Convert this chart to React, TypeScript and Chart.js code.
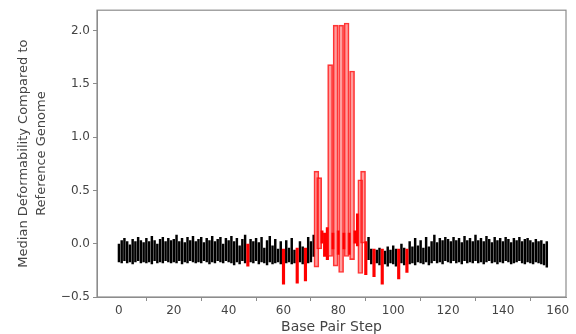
import React, { useEffect, useRef } from 'react';
import { Chart, registerables } from 'chart.js';

Chart.register(...registerables);

const xTickValues = [0, 20, 40, 60, 80, 100, 120, 140, 160];
const yTickValues = [-0.5, 0, 0.5, 1.0, 1.5, 2.0];

// lower end of each floating bar, base pair step 0..156
const lowValues = [
  -0.17, -0.18, -0.16, -0.18, -0.17, -0.19, -0.17, -0.16, -0.18, -0.17,
  -0.18, -0.17, -0.19, -0.16, -0.18, -0.17, -0.18, -0.16, -0.17, -0.18,
  -0.17, -0.18, -0.16, -0.19, -0.17, -0.18, -0.16, -0.17, -0.18, -0.17,
  -0.18, -0.16, -0.17, -0.19, -0.17, -0.18, -0.16, -0.17, -0.18, -0.16,
  -0.17, -0.18, -0.2, -0.17, -0.19, -0.16, -0.18, -0.21, -0.17, -0.18,
  -0.16, -0.19, -0.17, -0.18, -0.2, -0.17, -0.19, -0.18, -0.17, -0.19,
  -0.38, -0.18, -0.17, -0.19, -0.18, -0.37, -0.17, -0.19, -0.35, -0.18,
  -0.17, -0.12, -0.22, -0.05, 0.0, -0.12, -0.15, -0.12, -0.05, -0.21,
  -0.1, -0.27, -0.05, -0.12, -0.1, -0.15, 0.0, -0.02, -0.28, 0.0,
  -0.29, -0.15, -0.19, -0.31, -0.18, -0.2, -0.38, -0.19, -0.21, -0.18,
  -0.19, -0.21, -0.33, -0.18, -0.2, -0.27, -0.19, -0.18, -0.2, -0.17,
  -0.18, -0.19, -0.17, -0.2, -0.18, -0.16, -0.18, -0.17, -0.19, -0.16,
  -0.17, -0.18, -0.16, -0.18, -0.17, -0.19, -0.16, -0.18, -0.17, -0.18,
  -0.16, -0.18, -0.17, -0.19, -0.17, -0.16, -0.18, -0.17, -0.19, -0.17,
  -0.18, -0.16, -0.17, -0.19, -0.18, -0.17, -0.16, -0.18, -0.19, -0.17,
  -0.18, -0.19, -0.17, -0.18, -0.19, -0.2, -0.22,
];

// upper end of each floating bar, base pair step 0..156
const highValues = [
  0.0, 0.03, 0.05, 0.02, -0.01, 0.04, 0.02, 0.06, 0.03, 0.01,
  0.05, 0.02, 0.07, 0.03, 0.0, 0.04, 0.06, 0.02, 0.05, 0.03,
  0.04, 0.08, 0.02, 0.05, 0.01, 0.06, 0.03, 0.07, 0.02, 0.04,
  0.06, 0.01, 0.05, 0.03, 0.07, 0.02, 0.04, 0.06, 0.0, 0.05,
  0.03, 0.07, 0.02, 0.05, -0.02, 0.04, 0.08, 0.0, 0.04, 0.02,
  0.05, 0.01, 0.06, -0.04, 0.03, 0.07, -0.02, 0.04, -0.05, 0.02,
  -0.05, 0.03, -0.04, 0.05, -0.06, -0.04, 0.02, -0.03, -0.04, 0.06,
  0.02, 0.08, 0.68, 0.62, 0.12, 0.1, 0.15, 1.68, 0.1, 2.05,
  0.12, 2.05, 0.1, 2.07, 0.1, 1.62, 0.12, 0.28, 0.6, 0.68,
  0.02, 0.06, -0.05, -0.05, -0.06, -0.04, -0.05, -0.07, -0.03, -0.06,
  -0.02, -0.05, -0.05, 0.0, -0.04, -0.05, 0.02, -0.03, 0.05, -0.02,
  0.03, -0.04, 0.06, -0.03, 0.02, 0.08, 0.01, 0.05, 0.03, 0.06,
  0.04, 0.02, 0.06, 0.03, 0.05, 0.01, 0.07, 0.03, 0.05, 0.02,
  0.08, 0.03, 0.05, 0.02, 0.07, 0.04, 0.01, 0.06, 0.03, 0.05,
  0.02, 0.06, 0.04, 0.01, 0.05, 0.03, 0.06, 0.02, 0.04, 0.05,
  0.03, 0.01, 0.04, 0.02, 0.03, 0.0, 0.02,
];

// steps drawn in red (significant differences)
const redSteps = [
  47, 60, 65, 68, 72, 73, 74, 75, 76, 77, 78, 79, 80, 81, 82, 83, 84, 85,
  86, 87, 88, 89, 90, 93, 96, 102, 105,
];
// red steps drawn as wide tall bars
const tallSteps = [72, 73, 77, 79, 81, 83, 85, 88, 89];

const framePlugin = {
  id: 'frame',
  afterDatasetsDraw(chart: any) {
    const { ctx, chartArea } = chart;
    ctx.save();
    ctx.strokeStyle = '#8c8c8c';
    ctx.lineWidth = 1.2;
    ctx.strokeRect(chartArea.left, chartArea.top, chartArea.right - chartArea.left, chartArea.bottom - chartArea.top);
    ctx.restore();
  },
};

export default function App() {
  const canvasRef = useRef<HTMLCanvasElement | null>(null);

  useEffect(() => {
    document.body.style.margin = '0';
    const canvas = canvasRef.current;
    if (!canvas) return;

    const tallPts: any[] = [];
    const redPts: any[] = [];
    const blackPts: any[] = [];
    lowValues.forEach((lo, i) => {
      const pt = { x: i, y: [lo, highValues[i]] };
      if (tallSteps.includes(i)) tallPts.push(pt);
      else if (redSteps.includes(i)) redPts.push(pt);
      else blackPts.push(pt);
    });

    const chart = new Chart(canvas, {
      type: 'bar',
      data: {
        datasets: [
          {
            data: tallPts,
            backgroundColor: 'rgba(255,60,60,0.5)',
            borderColor: 'rgba(255,0,0,0.8)',
            borderWidth: 1,
            borderSkipped: false,
            barThickness: 5,
            grouped: false,
          } as any,
          {
            data: redPts,
            backgroundColor: '#ff0000',
            borderWidth: 0,
            barThickness: 2.5,
            grouped: false,
          } as any,
          {
            data: blackPts,
            backgroundColor: '#000000',
            borderWidth: 0,
            barThickness: 1.8,
            grouped: false,
          } as any,
        ],
      },
      options: {
        responsive: false,
        animation: false,
        layout: { padding: { top: 7, right: 10, left: 0, bottom: 0 } },
        plugins: {
          legend: { display: false },
          tooltip: { enabled: false },
        },
        scales: {
          x: {
            type: 'linear',
            min: -8,
            max: 163,
            offset: false,
            grid: { display: true, drawOnChartArea: false, drawTicks: true, tickLength: 4, color: '#8c8c8c' },
            border: { display: true, color: '#8c8c8c' },
            ticks: {
              autoSkip: false,
              maxRotation: 0,
              padding: 3,
              color: '#444',
              font: { family: 'DejaVu Sans', size: 12 },
              callback: (v: any) => String(v),
            },
            afterBuildTicks: (s: any) => {
              s.ticks = xTickValues.map((v) => ({ value: v }));
            },
            afterFit: (s: any) => {
              s.height = 37;
            },
            title: {
              display: true,
              text: 'Base Pair Step',
              color: '#444',
              font: { family: 'DejaVu Sans', size: 14, lineHeight: 1.0 },
              padding: { top: 0, bottom: 0 },
            },
          },
          y: {
            type: 'linear',
            min: -0.5,
            max: 2.19,
            grid: { display: true, drawOnChartArea: false, drawTicks: true, tickLength: 4, color: '#8c8c8c' },
            border: { display: true, color: '#8c8c8c' },
            ticks: {
              padding: 3,
              color: '#444',
              font: { family: 'DejaVu Sans', size: 12 },
              callback: (v: any) => Number(v).toFixed(1).replace('-', '\u2212'),
            },
            afterBuildTicks: (s: any) => {
              s.ticks = yTickValues.map((v) => ({ value: v }));
            },
            afterFit: (s: any) => {
              s.width = 97;
            },
            title: {
              display: true,
              text: ['Median Deformability Compared to', 'Reference Genome'],
              color: '#444',
              font: { family: 'DejaVu Sans', size: 13, lineHeight: 1.38 },
              padding: { top: 15, bottom: 0 },
            },
          },
        },
      },
      plugins: [framePlugin],
    } as any);

    return () => chart.destroy();
  }, []);

  return (
    <div style={{ width: 576, height: 334, background: '#fff' }}>
      <canvas ref={canvasRef} width={576} height={334} />
    </div>
  );
}
